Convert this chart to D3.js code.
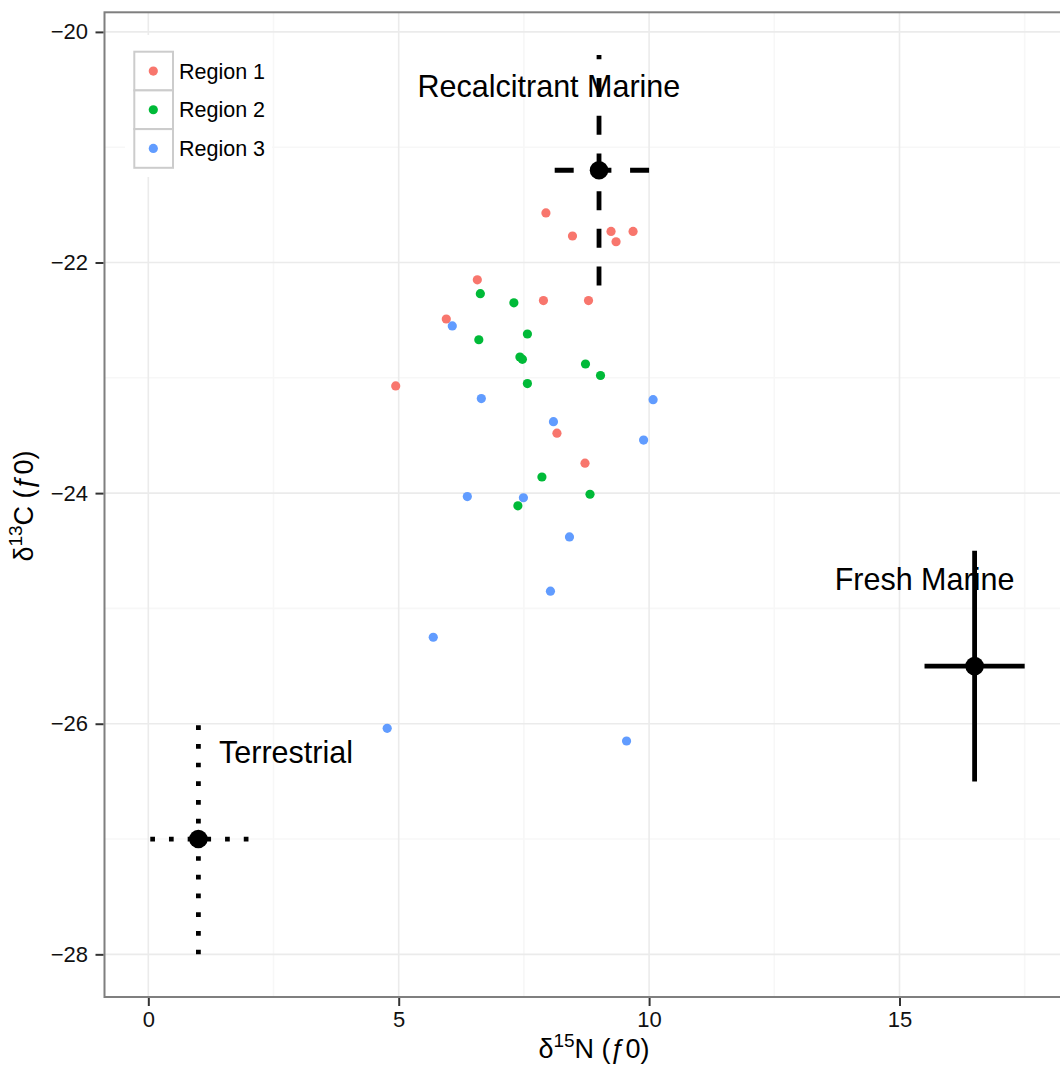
<!DOCTYPE html>
<html>
<head>
<meta charset="utf-8">
<script src="https://cdn.jsdelivr.net/npm/d3@7"></script>
<style>
  body { margin: 0; background: #fff; }
  text { font-family: "Liberation Sans", Arial, sans-serif; }
</style>
</head>
<body>
<div id="vis"></div>
<script>
// data
const regionNames = ['Region 1', 'Region 2', 'Region 3']
const regionColors = ['#F8766D', '#00BA38', '#619CFF']

const region1N = [7.94, 8.47, 9.24, 9.34, 9.68, 6.57, 7.89, 8.79, 5.95, 4.94, 8.16, 8.72]
const region1C = [-21.57, -21.77, -21.73, -21.82, -21.73, -22.15, -22.33, -22.33, -22.49, -23.07, -23.48, -23.74]

const region2N = [6.63, 7.30, 6.60, 7.57, 7.42, 7.47, 8.73, 9.03, 7.57, 7.86, 8.82, 7.38]
const region2C = [-22.27, -22.35, -22.67, -22.62, -22.82, -22.84, -22.88, -22.98, -23.05, -23.86, -24.01, -24.11]

const region3N = [6.07, 6.65, 10.08, 8.09, 9.89, 6.37, 7.49, 8.41, 8.03, 5.69, 4.77, 9.55]
const region3C = [-22.55, -23.18, -23.19, -23.38, -23.54, -24.03, -24.04, -24.38, -24.85, -25.25, -26.04, -26.15]

const sourceNames = ['Terrestrial', 'Recalcitrant Marine', 'Fresh Marine']
const sourceN = [1, 9, 16.5]
const sourceC = [-27, -21.2, -25.5]
const sourceSdN = [1, 1, 1]
const sourceSdC = [1, 1, 1]
const sourceLabelN = [2.75, 8, 15.5]
const sourceLabelC = [-26.25, -20.47, -24.75]

const xTicks = [0, 5, 10, 15]
const xMinor = [2.5, 7.5, 12.5, 17.5]
const yTicks = [-20, -22, -24, -26, -28]
const yMinor = [-21, -23, -25, -27]
const xLimits = [-0.875, 18.375]
const yLimits = [-28.37, -19.83]

// layout
const W = 1060, H = 1070
const panel = {left: 104.5, right: 1068.5, top: 12.3, bottom: 997}

const svg = d3.select('#vis').append('svg')
    .attr('width', W)
    .attr('height', H)

svg.append('rect').attr('width', W).attr('height', H).attr('fill', '#fff')

const x = d3.scaleLinear().domain(xLimits).range([panel.left, panel.right])
const y = d3.scaleLinear().domain(yLimits).range([panel.bottom, panel.top])

// grid
const grid = svg.append('g')
grid.selectAll('.minor-x').data(xMinor).enter().append('line')
    .attr('x1', d => x(d)).attr('x2', d => x(d))
    .attr('y1', panel.top).attr('y2', panel.bottom)
    .attr('stroke', '#f7f7f7').attr('stroke-width', 1.6)
grid.selectAll('.minor-y').data(yMinor).enter().append('line')
    .attr('y1', d => y(d)).attr('y2', d => y(d))
    .attr('x1', panel.left).attr('x2', panel.right)
    .attr('stroke', '#f7f7f7').attr('stroke-width', 1.6)
grid.selectAll('.major-x').data(xTicks).enter().append('line')
    .attr('x1', d => x(d)).attr('x2', d => x(d))
    .attr('y1', panel.top).attr('y2', panel.bottom)
    .attr('stroke', '#ebebeb').attr('stroke-width', 1.6)
grid.selectAll('.major-y').data(yTicks).enter().append('line')
    .attr('y1', d => y(d)).attr('y2', d => y(d))
    .attr('x1', panel.left).attr('x2', panel.right)
    .attr('stroke', '#ebebeb').attr('stroke-width', 1.6)

// source labels (under the crosses)
svg.selectAll('.src-label').data(sourceNames).enter().append('text')
    .attr('x', (d, i) => x(sourceLabelN[i]))
    .attr('y', (d, i) => y(sourceLabelC[i]))
    .attr('dy', '0.35em')
    .attr('text-anchor', 'middle')
    .attr('font-size', '30.5px')
    .attr('fill', '#000')
    .text(d => d)

// source crosses: dotted, dashed, solid
const dashes = ['4.7,14', '19,18.7', null]
const crosses = svg.append('g')
sourceNames.forEach((name, i) => {
    const ln = crosses.append('g')
        .attr('stroke', '#000')
        .attr('stroke-width', 4.8)
        .attr('fill', 'none')
        .attr('stroke-dasharray', dashes[i])
    ln.append('line')
        .attr('x1', x(sourceN[i])).attr('x2', x(sourceN[i]))
        .attr('y1', y(sourceC[i] - sourceSdC[i])).attr('y2', y(sourceC[i] + sourceSdC[i]))
    ln.append('line')
        .attr('x1', x(sourceN[i] + sourceSdN[i])).attr('x2', x(sourceN[i] - sourceSdN[i]))
        .attr('y1', y(sourceC[i])).attr('y2', y(sourceC[i]))
})
crosses.selectAll('circle').data(sourceNames).enter().append('circle')
    .attr('cx', (d, i) => x(sourceN[i]))
    .attr('cy', (d, i) => y(sourceC[i]))
    .attr('r', 9.3)
    .attr('fill', '#000')

// region points
const regionN = [region1N, region2N, region3N]
const regionC = [region1C, region2C, region3C]
regionNames.forEach((name, r) => {
    svg.append('g').selectAll('circle')
        .data(regionN[r])
        .enter()
        .append('circle')
        .attr('cx', d => x(d))
        .attr('cy', (d, i) => y(regionC[r][i]))
        .attr('r', 4.6)
        .attr('fill', regionColors[r])
})

// legend
const legend = svg.append('g')
legend.append('rect')
    .attr('x', 125).attr('y', 35).attr('width', 147).attr('height', 142)
    .attr('fill', '#fff')
const keySize = 38.7
const keys = legend.selectAll('.key').data(regionNames).enter().append('g')
    .attr('transform', (d, i) => 'translate(134.3,' + (51.7 + i * keySize) + ')')
keys.append('rect')
    .attr('width', keySize).attr('height', keySize)
    .attr('fill', '#fff')
    .attr('stroke', '#cccccc')
    .attr('stroke-width', 2)
keys.append('circle')
    .attr('cx', 19).attr('cy', keySize / 2)
    .attr('r', 4.6)
    .attr('fill', (d, i) => regionColors[i])
keys.append('text')
    .attr('x', 44.7).attr('y', keySize / 2)
    .attr('dy', '0.36em')
    .attr('font-size', '21.5px')
    .attr('fill', '#000')
    .text(d => d)

// panel border
svg.append('rect')
    .attr('x', panel.left).attr('y', panel.top)
    .attr('width', panel.right - panel.left)
    .attr('height', panel.bottom - panel.top)
    .attr('fill', 'none')
    .attr('stroke', '#7f7f7f')
    .attr('stroke-width', 2)

// axes
const yAxis = svg.append('g')
    .attr('transform', 'translate(' + (panel.left - 1) + ',0)')
    .call(d3.axisLeft(y).tickValues(yTicks).tickSize(8).tickPadding(7.5))
const xAxis = svg.append('g')
    .attr('transform', 'translate(0,' + (panel.bottom + 1) + ')')
    .call(d3.axisBottom(x).tickValues(xTicks).tickSize(8).tickPadding(5))
;[xAxis, yAxis].forEach(ax => {
    ax.select('.domain').remove()
    ax.selectAll('.tick line').attr('stroke', '#333').attr('stroke-width', 2)
    ax.selectAll('.tick text')
        .attr('font-family', '"Liberation Sans", Arial, sans-serif')
        .attr('font-size', '22px')
        .attr('fill', '#111')
})

// axis titles
const xTitle = svg.append('text')
    .attr('x', 594).attr('y', 1058)
    .attr('text-anchor', 'middle')
    .attr('font-size', '27px')
    .attr('fill', '#000')
xTitle.append('tspan').text('δ')
xTitle.append('tspan').attr('font-size', '19px').attr('dy', -11).text('15')
xTitle.append('tspan').attr('dy', 11).text('N (ƒ0)')

const yTitle = svg.append('text')
    .attr('transform', 'translate(33,506) rotate(-90)')
    .attr('text-anchor', 'middle')
    .attr('font-size', '27px')
    .attr('fill', '#000')
yTitle.append('tspan').text('δ')
yTitle.append('tspan').attr('font-size', '19px').attr('dy', -11).text('13')
yTitle.append('tspan').attr('dy', 11).text('C (ƒ0)')
</script>
</body>
</html>
